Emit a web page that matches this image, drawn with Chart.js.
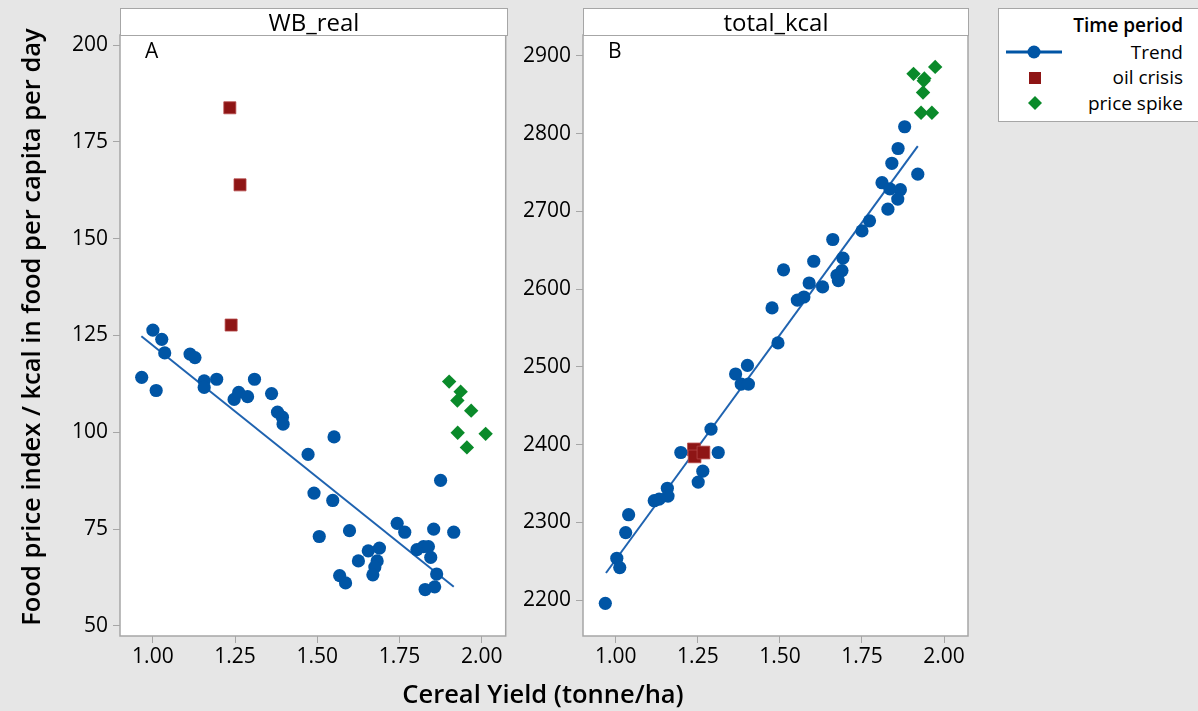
<!DOCTYPE html>
<html><head><meta charset="utf-8">
<script src="https://cdn.jsdelivr.net/npm/chart.js@4.4.0/dist/chart.umd.min.js"></script>
<style>
html,body{margin:0;padding:0;}
body{background:#e6e6e6;width:1198px;height:711px;overflow:hidden;position:relative;font-family:"Open Sans","Noto Sans",sans-serif;color:#000;}
canvas{position:absolute;top:0;}
.strip{position:absolute;top:8px;height:28px;box-sizing:border-box;background:#fff;border:1px solid #a6a6a6;text-align:center;font-size:24px;line-height:25px;}
.tag{position:absolute;top:36px;font-size:21px;line-height:28px;}
#ytitle{position:absolute;left:-320px;top:311px;width:700px;height:32px;line-height:32px;text-align:center;transform:rotate(-90deg);font-size:25.5px;font-weight:600;white-space:nowrap;}
#xtitle{position:absolute;left:343px;width:400px;top:677px;line-height:32px;text-align:center;font-size:25.5px;font-weight:600;white-space:nowrap;}
#legend{position:absolute;left:998px;top:8px;width:210px;height:114px;box-sizing:border-box;background:#fff;border:1px solid #a6a6a6;}
.lt{position:absolute;right:15px;font-size:19px;line-height:24px;white-space:nowrap;}
</style>
</head><body>
<canvas id="cA" width="515" height="711" style="left:0px"></canvas>
<canvas id="cB" width="505" height="711" style="left:505px"></canvas>
<div class="strip" style="left:120px;width:388px;">WB_real</div>
<div class="strip" style="left:583px;width:386px;">total_kcal</div>
<div class="tag" style="left:145px;">A</div>
<div class="tag" style="left:608px;">B</div>
<div id="ytitle">Food price index / kcal in food per capita per day</div>
<div id="xtitle">Cereal Yield (tonne/ha)</div>
<div id="legend"></div>
<div class="lt" style="top:13px;font-weight:600;">Time period</div>
<div class="lt" style="top:40px;">Trend</div>
<div class="lt" style="top:65px;">oil crisis</div>
<div class="lt" style="top:91px;">price spike</div>
<svg style="position:absolute;left:1000px;top:40px;" width="70" height="80">
  <line x1="6" y1="12" x2="62" y2="12" stroke="#0055a5" stroke-width="3"/>
  <circle cx="34" cy="12" r="6.5" fill="#0055a5"/>
  <rect x="29" y="32" width="12" height="12" fill="#8e1515"/>
  <polygon points="35,56 42,63 35,70 28,63" fill="#0a8a2a"/>
</svg>
<script>
// ---- tick labels ----
const xTicks = [1.00, 1.25, 1.50, 1.75, 2.00];
const yTicksA = [50, 75, 100, 125, 150, 175, 200];
const yTicksB = [2200, 2300, 2400, 2500, 2600, 2700, 2800, 2900];

// ---- Panel A: WB_real ----
const trendAX = [1.000,1.027,1.036,0.966,1.010,1.113,1.128,1.156,1.156,1.194,1.247,1.261,1.288,1.309,1.361,1.379,1.394,1.396,1.472,1.551,1.490,1.547,1.506,1.568,1.586,1.598,1.625,1.655,1.689,1.682,1.675,1.669,1.743,1.766,1.803,1.823,1.838,1.845,1.854,1.863,1.828,1.857,1.875,1.915];
const trendAY = [126.4,124.0,120.5,114.2,110.8,120.2,119.3,113.3,111.6,113.7,108.5,110.3,109.2,113.7,110.0,105.2,103.9,102.1,94.3,98.8,84.3,82.4,73.1,63.0,61.1,74.6,66.8,69.4,70.1,66.8,65.2,63.2,76.5,74.2,69.7,70.5,70.5,67.7,75.0,63.4,59.4,60.1,87.6,74.2];
const oilAX = [1.234, 1.265, 1.238];
const oilAY = [183.8, 163.9, 127.7];
const spikeAX = [1.901, 1.936, 1.926, 1.968, 1.927, 2.012, 1.955];
const spikeAY = [113.1, 110.5, 108.2, 105.6, 99.9, 99.6, 96.1];
const fitAX = [0.965, 1.915];
const fitAY = [124.8, 60.1];

// ---- Panel B: total_kcal ----
const trendBX = [1.880,1.860,1.841,1.920,1.811,1.835,1.867,1.859,1.829,1.773,1.750,1.661,1.692,1.603,1.511,1.689,1.674,1.678,1.589,1.630,1.573,1.553,1.476,1.494,1.401,1.365,1.382,1.404,1.290,1.198,1.312,1.265,1.251,1.157,1.159,1.117,1.132,1.039,1.030,1.003,1.012,0.968];
const trendBY = [2809,2781,2762,2748,2737,2729,2728,2716,2703,2688,2675,2664,2640,2636,2625,2624,2618,2611,2608,2603,2590,2586,2576,2531,2502,2491,2478,2478,2420,2390,2390,2366,2352,2344,2334,2328,2330,2310,2287,2254,2242,2196];
const oilBX = [1.238, 1.240, 1.267];
const oilBY = [2394, 2385, 2390];
const spikeBX = [1.907, 1.940, 1.973, 1.936, 1.930, 1.963, 1.938];
const spikeBY = [2877, 2871, 2886, 2853, 2827, 2827, 2868];
const fitBX = [0.970, 1.920];
const fitBY = [2235, 2784];

const BLUE = '#0055a5', LINEBLUE = '#1f63b0', RED = '#8e1515', GREEN = '#0a8a2a';
const FONT = '"Open Sans","Noto Sans",sans-serif';

const pts = (xs, ys) => xs.map((x, i) => ({x, y: ys[i]}));

const panelBg = {
  id: 'panelBg',
  beforeDraw(chart) {
    const {ctx, chartArea: a} = chart;
    ctx.save(); ctx.fillStyle = '#fff'; ctx.fillRect(a.left, a.top, a.width, a.height); ctx.restore();
  },
  afterDraw(chart) {
    const {ctx, chartArea: a} = chart;
    ctx.save(); ctx.strokeStyle = '#a6a6a6'; ctx.lineWidth = 1.5;
    ctx.strokeRect(a.left, a.top, a.width, a.height); ctx.restore();
  }
};

function makePanel(id, o) {
  return new Chart(document.getElementById(id), {
    type: 'scatter',
    data: {
      datasets: [
        {label: 'Trend', data: pts(o.tx, o.ty), backgroundColor: BLUE, borderColor: BLUE, pointRadius: 6.6, pointStyle: 'circle', borderWidth: 0},
        {label: 'oil crisis', data: pts(o.ox, o.oy), backgroundColor: RED, borderColor: '#b54848', borderWidth: 0.8, pointRadius: o.sq, pointStyle: 'rect'},
        {label: 'price spike', data: pts(o.sx, o.sy), backgroundColor: GREEN, borderColor: GREEN, borderWidth: 0, pointRadius: 7.2, pointStyle: 'rectRot'},
        {label: 'fit', data: pts(o.fx, o.fy), showLine: true, borderColor: LINEBLUE, borderWidth: 2, pointRadius: 0, fill: false}
      ]
    },
    options: {
      responsive: false, animation: false, devicePixelRatio: 1,
      layout: {padding: {left: 0, top: 35, right: o.padR, bottom: 0}},
      plugins: {legend: {display: false}, tooltip: {enabled: false}},
      scales: {
        x: {
          type: 'linear', min: 0.9, max: 2.073,
          afterBuildTicks: s => { s.ticks = xTicks.map(v => ({value: v})); },
          afterFit: s => { s.height = 75; },
          grid: {drawOnChartArea: false, drawTicks: true, tickLength: 7, tickColor: '#a6a6a6', color: '#a6a6a6'},
          border: {display: false},
          ticks: {color: '#000', font: {family: FONT, size: 21}, padding: 1, maxRotation: 0, callback: v => v.toFixed(2)}
        },
        y: {
          type: 'linear', min: o.ymin, max: o.ymax,
          afterBuildTicks: s => { s.ticks = o.yt.map(v => ({value: v})); },
          afterFit: s => { s.width = o.yw; },
          grid: {drawOnChartArea: false, drawTicks: true, tickLength: 7, tickColor: '#a6a6a6', color: '#a6a6a6'},
          border: {display: false},
          ticks: {color: '#000', font: {family: FONT, size: 21}, padding: 5, callback: v => String(v)}
        }
      }
    },
    plugins: [panelBg]
  });
}

makePanel('cA', {tx: trendAX, ty: trendAY, ox: oilAX, oy: oilAY, sx: spikeAX, sy: spikeAY, fx: fitAX, fy: fitAY,
  ymin: 47.4, ymax: 202.6, yt: yTicksA, yw: 120, padR: 8, sq: 8.5});
makePanel('cB', {tx: trendBX, ty: trendBY, ox: oilBX, oy: oilBY, sx: spikeBX, sy: spikeBY, fx: fitBX, fy: fitBY,
  ymin: 2154, ymax: 2927, yt: yTicksB, yw: 78, padR: 42, sq: 9});
</script>
</body></html>
